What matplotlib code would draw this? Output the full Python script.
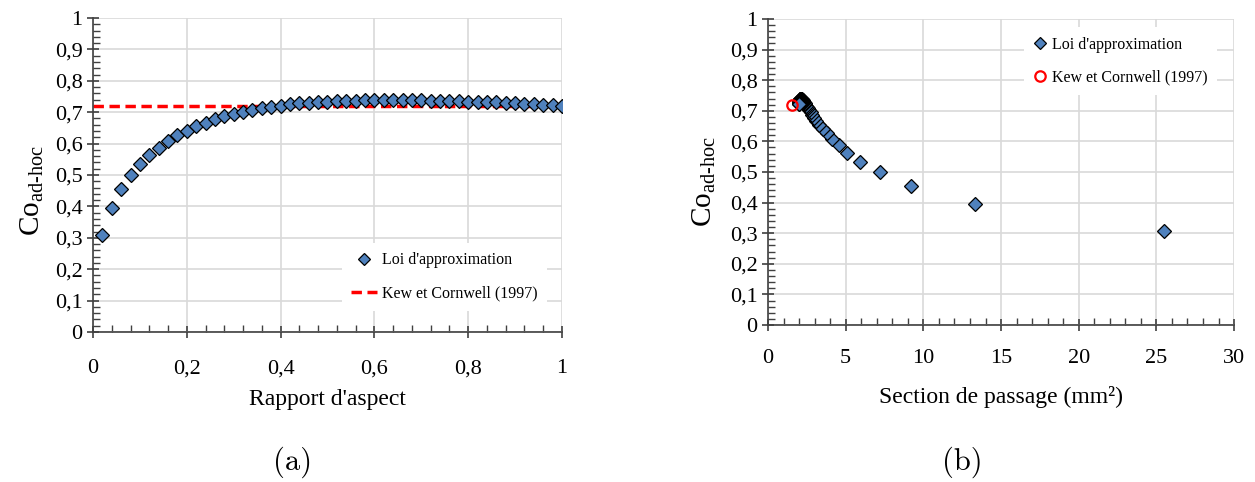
import matplotlib.pyplot as plt
import numpy as np
from matplotlib.ticker import MultipleLocator, FuncFormatter
from matplotlib.lines import Line2D

plt.rcParams['font.family'] = ['Liberation Serif', 'DejaVu Serif']
plt.rcParams['mathtext.fontset'] = 'custom'
plt.rcParams['mathtext.rm'] = 'Liberation Serif'

# rapport d'aspect (0.02 ... 1.0) and fitted Co values
aspect = [0.02, 0.04, 0.06, 0.08, 0.10, 0.12, 0.14, 0.16, 0.18, 0.20,
          0.22, 0.24, 0.26, 0.28, 0.30, 0.32, 0.34, 0.36, 0.38, 0.40,
          0.42, 0.44, 0.46, 0.48, 0.50, 0.52, 0.54, 0.56, 0.58, 0.60,
          0.62, 0.64, 0.66, 0.68, 0.70, 0.72, 0.74, 0.76, 0.78, 0.80,
          0.82, 0.84, 0.86, 0.88, 0.90, 0.92, 0.94, 0.96, 0.98, 1.00]
co = [0.308, 0.395, 0.455, 0.499, 0.534, 0.563, 0.587, 0.608, 0.626, 0.641,
      0.655, 0.667, 0.677, 0.687, 0.695, 0.702, 0.708, 0.713, 0.717, 0.721,
      0.725, 0.728, 0.730, 0.732, 0.734, 0.735, 0.736, 0.737, 0.738, 0.738,
      0.739, 0.739, 0.739, 0.738, 0.738, 0.737, 0.737, 0.736, 0.735, 0.734,
      0.733, 0.732, 0.731, 0.730, 0.729, 0.727, 0.726, 0.724, 0.723, 0.721]
# section de passage (mm2) for the same points
section = [25.5, 13.3, 9.2, 7.2, 5.95, 5.1, 4.55, 4.1, 3.8, 3.55,
           3.3, 3.1, 2.95, 2.85, 2.75, 2.65, 2.57, 2.5, 2.45, 2.4,
           2.35, 2.31, 2.28, 2.25, 2.22, 2.2, 2.18, 2.16, 2.14, 2.13,
           2.12, 2.1, 2.09, 2.08, 2.07, 2.06, 2.05, 2.05, 2.04, 2.04,
           2.03, 2.03, 2.02, 2.02, 2.02, 2.01, 2.01, 2.01, 2.0, 2.0]

kew_co = 0.72
kew_section = 1.55

blue = '#4f81bd'
axcol = '#404040'
gridcol = '#d9d9d9'

comma = FuncFormatter(lambda v, p: ('%g' % round(v, 2)).replace('.', ','))

fig = plt.figure(figsize=(12.55, 4.82), dpi=100)
ax1 = fig.add_axes([0.0741, 0.3112, 0.3737, 0.6515])
ax2 = fig.add_axes([0.612, 0.3257, 0.3713, 0.635])


def style(ax, xmaj, xmin, xpad):
    ax.set_ylim(0, 1)
    ax.yaxis.set_major_locator(MultipleLocator(0.1))
    ax.yaxis.set_minor_locator(MultipleLocator(0.02))
    ax.xaxis.set_major_locator(MultipleLocator(xmaj))
    ax.xaxis.set_minor_locator(MultipleLocator(xmin))
    ax.yaxis.set_major_formatter(comma)
    ax.xaxis.set_major_formatter(comma)
    ax.grid(True, which='major', color=gridcol, lw=1.2)
    ax.set_axisbelow(True)
    for s in ['top', 'right']:
        ax.spines[s].set_visible(False)
    for s in ['left', 'bottom']:
        ax.spines[s].set_color(axcol)
        ax.spines[s].set_linewidth(1.2)
    ax.tick_params(which='major', direction='inout', length=9, width=1.2,
                   color=axcol, labelsize=16)
    ax.tick_params(which='minor', direction='in', length=5, width=1.0,
                   color=axcol)
    ax.tick_params(axis='y', which='major', pad=3)
    ax.tick_params(axis='x', which='major', pad=xpad)


ylab = r'Co$_{\mathregular{ad\text{-}hoc}}$'
dash = (0, (3, 1.6))

# (a)
style(ax1, 0.2, 0.04, 15)
ax1.set_xlim(0, 1)
ax1.plot([0, 1], [kew_co, kew_co], color='#ff0000', lw=2.5, ls=dash, zorder=2)
ax1.plot(aspect, co, ls='none', marker='D', ms=7, mfc=blue, mec='black',
         mew=0.9, zorder=3)
ax1.set_xlabel("Rapport d'aspect", fontsize=17)
ax1.set_ylabel(ylab, fontsize=21)
ax1.xaxis.set_label_coords(0.5, -0.18)
ax1.yaxis.set_label_coords(-0.10, 0.45)
h1 = [Line2D([], [], ls='none', marker='D', ms=6.5, mfc=blue, mec='black', mew=0.9),
      Line2D([], [], color='#ff0000', lw=2.5, ls=dash)]
ax1.legend(h1, ["Loi d'approximation", 'Kew et Cornwell (1997)'],
           loc='lower right', bbox_to_anchor=(0.985, 0.04), fontsize=11.5,
           frameon=True, fancybox=False, edgecolor='none',
           facecolor='white', framealpha=1, labelspacing=1.1,
           handlelength=1.6, handletextpad=0.3, borderpad=0.6)

# (b)
style(ax2, 5, 1, 13)
ax2.set_xlim(0, 30)
ax2.plot(section, co, ls='none', marker='D', ms=7, mfc=blue, mec='black',
         mew=0.9, zorder=3)
ax2.plot([kew_section], [kew_co], ls='none', marker='o', ms=7.5, mfc='none',
         mec='#ff0000', mew=1.6, zorder=4)
ax2.set_xlabel('Section de passage (mm²)', fontsize=17)
ax2.set_ylabel(ylab, fontsize=21)
ax2.xaxis.set_label_coords(0.5, -0.2)
ax2.yaxis.set_label_coords(-0.107, 0.47)
h2 = [Line2D([], [], ls='none', marker='D', ms=6.5, mfc=blue, mec='black', mew=0.9),
      Line2D([], [], ls='none', marker='o', ms=7.5, mfc='none', mec='#ff0000', mew=1.6)]
ax2.legend(h2, ["Loi d'approximation", 'Kew et Cornwell (1997)'],
           loc='upper right', bbox_to_anchor=(0.98, 1.0), fontsize=11.5,
           frameon=True, fancybox=False, edgecolor='none',
           facecolor='white', framealpha=1, labelspacing=1.05,
           handlelength=0.8, handletextpad=0.3, borderpad=0.6)

fig.text(0.2335, 0.04, '(a)', fontsize=22, family='cmr10', ha='center',
         va='center')
fig.text(0.7665, 0.04, '(b)', fontsize=22, family='cmr10', ha='center',
         va='center')

fig.savefig('out.png', dpi=100)
